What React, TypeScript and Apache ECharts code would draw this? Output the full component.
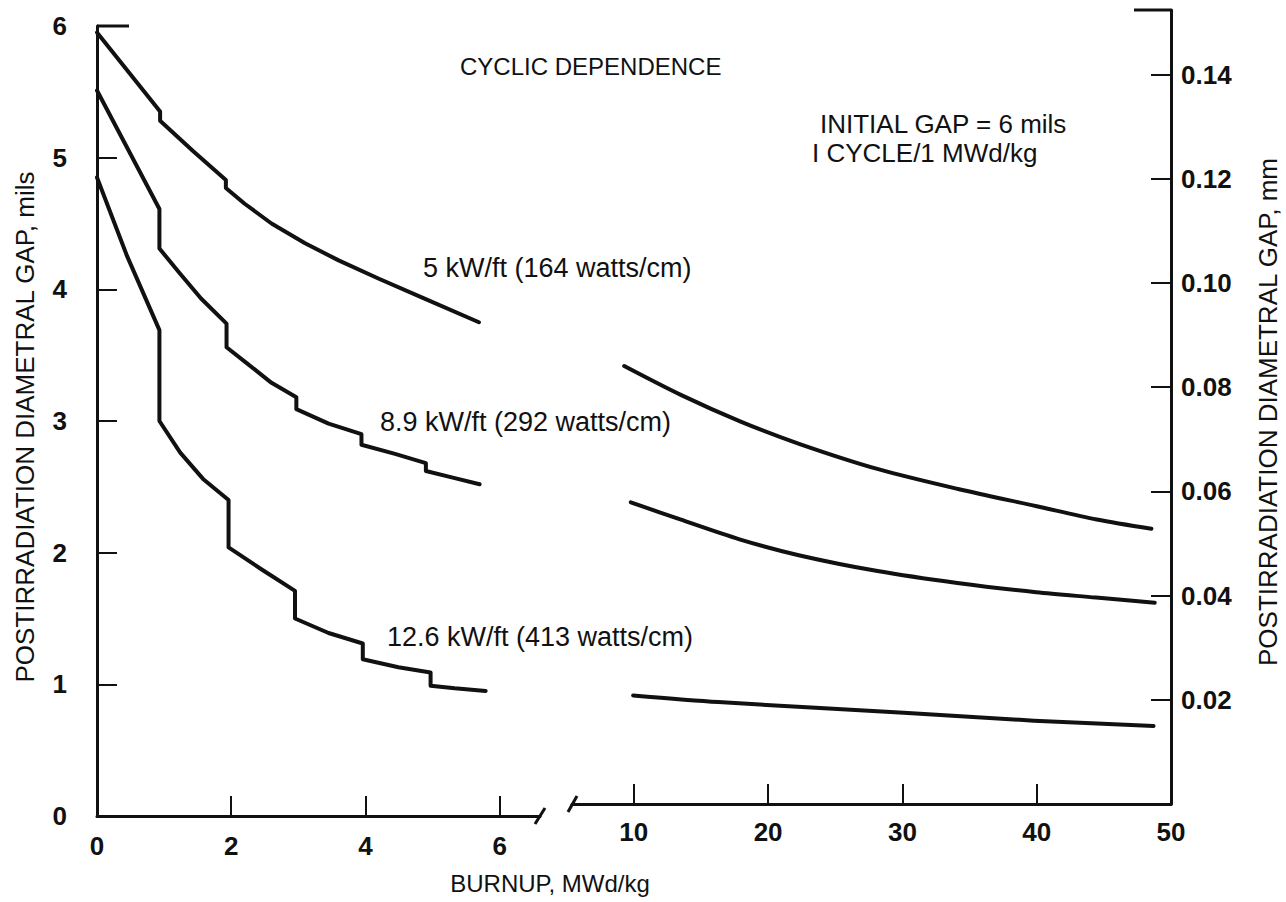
import React, { useEffect, useRef } from "react";
import * as echarts from "echarts";

// ---- data (burnup MWd/kg, postirradiation diametral gap mils) ----
const leftBurnupTicks = [0, 2, 4, 6];
const rightBurnupTicks = [10, 20, 30, 40, 50];
const mmTicks = [0.02, 0.04, 0.06, 0.08, 0.1, 0.12, 0.14];
const MIL_TO_MM = 0.0254;

const curve5Left: [number, number][] = [
  [0, 5.95], [0.94, 5.35], [0.94, 5.28], [1.43, 5.05], [1.92, 4.83], [1.92, 4.77],
  [2.2, 4.65], [2.6, 4.5], [3.1, 4.35], [3.6, 4.22], [4.2, 4.08], [4.88, 3.93], [5.69, 3.75],
];
const curve5Right: [number, number][] = [
  [9.29, 3.31], [13.54, 3.09], [17.96, 2.89], [22.36, 2.72], [28.2, 2.53],
  [34.15, 2.38], [40.0, 2.25], [44.47, 2.15], [48.54, 2.08],
];
const curve89Left: [number, number][] = [
  [0, 5.51], [0.93, 4.61], [0.93, 4.31], [1.22, 4.13], [1.55, 3.93], [1.93, 3.74],
  [1.93, 3.56], [2.23, 3.44], [2.6, 3.29], [2.97, 3.18], [2.97, 3.09], [3.45, 2.98],
  [3.94, 2.9], [3.94, 2.82], [4.44, 2.75], [4.9, 2.68], [4.9, 2.62], [5.3, 2.57], [5.7, 2.52],
];
const curve89Right: [number, number][] = [
  [9.78, 2.28], [13.46, 2.15], [17.87, 2.0], [22.28, 1.88], [28.15, 1.76],
  [34.09, 1.67], [39.96, 1.6], [44.41, 1.56], [48.79, 1.52],
];
const curve126Left: [number, number][] = [
  [0, 4.85], [0.45, 4.25], [0.93, 3.69], [0.93, 3.0], [1.24, 2.76], [1.58, 2.56],
  [1.96, 2.4], [1.96, 2.04], [2.46, 1.87], [2.95, 1.71], [2.95, 1.5], [3.45, 1.39],
  [3.96, 1.31], [3.96, 1.19], [4.49, 1.13], [4.97, 1.09], [4.97, 0.99], [5.33, 0.97], [5.79, 0.95],
];
const curve126Right: [number, number][] = [
  [9.95, 0.82], [16.3, 0.77], [30.1, 0.69], [39.8, 0.63], [48.7, 0.59],
];

const FONT = "'Liberation Sans', Arial, sans-serif";
const INK = "#111";

// layout
const G0 = { left: 97, top: 26, width: 443, height: 790 };
const G1 = { left: 572, top: 10, width: 599, height: 794 };

const tickStyle = { inside: true, length: 20, lineStyle: { color: INK, width: 2 } };
const lineAxis = { lineStyle: { color: INK, width: 3 } };
const labelBase = { color: INK, fontFamily: FONT, fontSize: 26, fontWeight: "bold" as const };

function text(t: string, x: number, y: number, size: number, opts: any = {}) {
  return {
    type: "text",
    x,
    y,
    rotation: opts.rotation || 0,
    style: {
      text: t,
      fill: INK,
      fontFamily: FONT,
      fontSize: size,
      fontWeight: opts.weight || "normal",
      align: opts.align || "left",
      textAlign: opts.align || "left",
      verticalAlign: "middle",
      textVerticalAlign: "middle",
    },
  };
}

function seg(x1: number, y1: number, x2: number, y2: number, w = 3) {
  return { type: "line", shape: { x1, y1, x2, y2 }, style: { stroke: INK, lineWidth: w } };
}

function lineSeries(data: [number, number][], xi: number, yi: number, smooth: number) {
  return {
    type: "line",
    data,
    xAxisIndex: xi,
    yAxisIndex: yi,
    showSymbol: false,
    symbol: "none",
    smooth,
    clip: false,
    lineStyle: { color: INK, width: 4, cap: "round", join: "round" },
  };
}

export default function App() {
  const ref = useRef<HTMLDivElement>(null);
  useEffect(() => {
    const chart = echarts.init(ref.current!, undefined, { renderer: "svg" });
    const g0Bottom = G0.top + G0.height;
    const g0Right = G0.left + G0.width;
    const g1Bottom = G1.top + G1.height;
    const g1Right = G1.left + G1.width;
    chart.setOption({
      animation: false,
      backgroundColor: "#fff",
      grid: [
        { ...G0, containLabel: false },
        { ...G1, containLabel: false },
      ],
      xAxis: [
        {
          type: "value", gridIndex: 0, min: 0, max: 6.6,
          axisLine: lineAxis,
          axisTick: { ...tickStyle, customValues: leftBurnupTicks },
          axisLabel: { ...labelBase, margin: 17, customValues: leftBurnupTicks },
          splitLine: { show: false },
        },
        {
          type: "value", gridIndex: 1, min: 5.4, max: 50,
          axisLine: lineAxis,
          axisTick: { ...tickStyle, customValues: rightBurnupTicks.slice(0, 4) },
          axisLabel: { ...labelBase, margin: 15, customValues: rightBurnupTicks },
          splitLine: { show: false },
        },
      ],
      yAxis: [
        {
          type: "value", gridIndex: 0, min: 0, max: 6, interval: 1,
          axisLine: { show: true, ...lineAxis },
          axisTick: tickStyle,
          axisLabel: { ...labelBase, margin: 30 },
          splitLine: { show: false },
        },
        { type: "value", gridIndex: 1, min: 0, max: 6, show: false },
        {
          type: "value", gridIndex: 1, position: "right", min: 0, max: 6 * MIL_TO_MM,
          axisLine: { show: true, ...lineAxis },
          axisTick: { ...tickStyle, customValues: mmTicks },
          axisLabel: {
            ...labelBase, margin: 10, customValues: mmTicks,
            formatter: (v: number) => v.toFixed(2),
          },
          splitLine: { show: false },
        },
      ],
      series: [
        lineSeries(curve5Left, 0, 0, 0),
        lineSeries(curve89Left, 0, 0, 0),
        lineSeries(curve126Left, 0, 0, 0),
        lineSeries(curve5Right, 1, 1, 0.3),
        lineSeries(curve89Right, 1, 1, 0.3),
        lineSeries(curve126Right, 1, 1, 0.3),
      ],
      graphic: [
        // frame decorations
        seg(G0.left, G0.top, G0.left + 32, G0.top),
        seg(g1Right - 37, G1.top, g1Right, G1.top),
        seg(g0Right - 5, g0Bottom + 8, g0Right + 5, g0Bottom - 8),
        seg(G1.left - 4, g1Bottom + 8, G1.left + 5, g1Bottom - 8),
        // titles and notes
        text("CYCLIC DEPENDENCE", 460, 66, 24),
        text("INITIAL GAP = 6 mils", 820, 124, 26),
        text("I CYCLE/1 MWd/kg", 812, 153, 26),
        text("5 kW/ft (164 watts/cm)", 423, 268, 27),
        text("8.9 kW/ft (292 watts/cm)", 380, 422, 27),
        text("12.6 kW/ft (413 watts/cm)", 387, 637, 27),
        text("BURNUP, MWd/kg", 550, 883, 24, { align: "center" }),
        text("POSTIRRADIATION DIAMETRAL GAP, mils", 25, 427, 26, { align: "center", rotation: Math.PI / 2 }),
        text("POSTIRRADIATION DIAMETRAL GAP, mm", 1268, 412, 26, { align: "center", rotation: Math.PI / 2 }),
      ],
    });
    return () => chart.dispose();
  }, []);
  return (
    <div
      ref={ref}
      style={{ position: "fixed", left: 0, top: 0, width: 1286, height: 902, background: "#fff" }}
    />
  );
}
